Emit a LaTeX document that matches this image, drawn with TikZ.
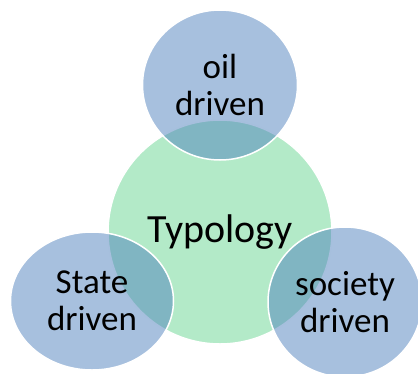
\documentclass[tikz,border=0pt]{standalone}
\usepackage{fontspec}
\setmainfont{Carlito}
\usetikzlibrary{shapes.geometric}
\definecolor{typegreen}{RGB}{179,234,200}
\definecolor{typeblue}{RGB}{79,129,189}

\begin{document}
\begin{tikzpicture}[x=1pt, y=-1pt,
  hub/.style = {draw=white, line width=1.5pt, fill=typegreen, circle, inner sep=0pt, minimum size=224pt, font=\fontsize{40}{48}\selectfont},
  leaf/.style = {draw=white, line width=1.5pt, fill=typeblue, fill opacity=0.5, text opacity=1, ellipse, inner sep=0pt, align=center, font=\fontsize{35}{37}\selectfont}]
\useasboundingbox (0,0) rectangle (418,373);
\node[hub] (typology) at (220,232) {Typology};
\node[leaf, minimum width=155pt, minimum height=150pt] (oil) at (220,85) {oil\\driven};
\node[leaf, minimum width=163pt, minimum height=138pt] (state) at (92,301) {State\\driven};
\node[leaf, minimum width=154pt, minimum height=150pt] (society) at (345,302) {society\\driven};
\end{tikzpicture}
\end{document}
